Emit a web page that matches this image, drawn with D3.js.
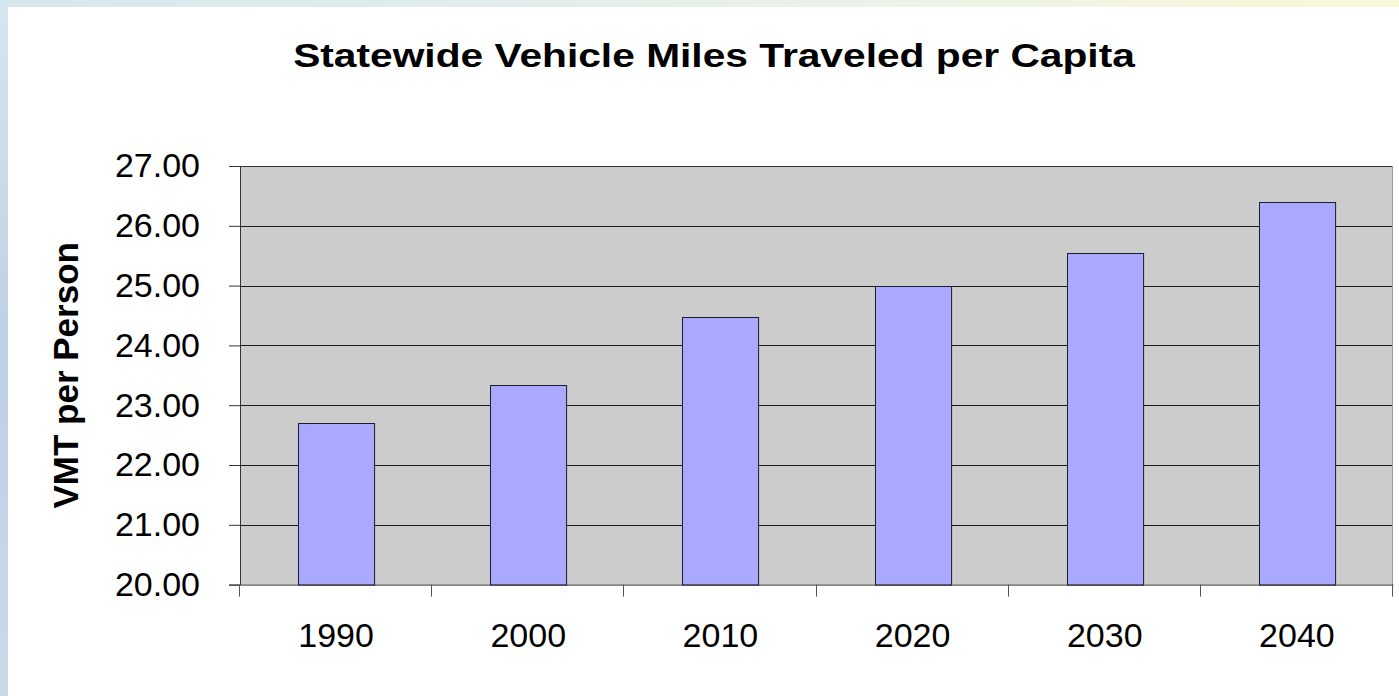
<!DOCTYPE html>
<html>
<head>
<meta charset="utf-8">
<script src="https://cdn.jsdelivr.net/npm/d3@7"></script>
<style>
  html, body { margin: 0; padding: 0; overflow: hidden; }
  svg { display: block; font-family: "Liberation Sans", Arial, sans-serif; }
</style>
</head>
<body>
<svg id="chart" width="1399" height="696"></svg>
<script>
// chart values
const years = ["1990", "2000", "2010", "2020", "2030", "2040"];
const vmtPerPerson = [22.71, 23.34, 24.47, 25.00, 25.55, 26.40];
const yTicks = [20, 21, 22, 23, 24, 25, 26, 27];

const svg = d3.select("#chart"),
      margin = {top: 166, right: 6, bottom: 111.4, left: 240},
      width = +svg.attr("width") - margin.left - margin.right,
      height = +svg.attr("height") - margin.top - margin.bottom;

// slide backdrop: bluish strip on the left, pale strip along the top
const defs = svg.append("defs");
const topGrad = defs.append("linearGradient").attr("id", "topGrad");
topGrad.append("stop").attr("offset", "0%").attr("stop-color", "#d6e7ee");
topGrad.append("stop").attr("offset", "55%").attr("stop-color", "#e8f1ea");
topGrad.append("stop").attr("offset", "100%").attr("stop-color", "#fbf8d8");
const leftGrad = defs.append("linearGradient").attr("id", "leftGrad")
    .attr("x1", 0).attr("y1", 0).attr("x2", 0).attr("y2", 1);
leftGrad.append("stop").attr("offset", "0%").attr("stop-color", "#d4e6ee");
leftGrad.append("stop").attr("offset", "50%").attr("stop-color", "#bcd0e4");
leftGrad.append("stop").attr("offset", "100%").attr("stop-color", "#c9d9ea");

svg.append("rect").attr("width", 1399).attr("height", 696).attr("fill", "url(#topGrad)");
svg.append("rect").attr("width", 8).attr("height", 696).attr("fill", "url(#leftGrad)");
svg.append("rect").attr("x", 8).attr("y", 7).attr("width", 1391).attr("height", 689).attr("fill", "#fff");

// title is drawn wider than its natural width, so stretch the glyphs
const title = svg.append("g").attr("transform", "translate(714,67)");
const titleText = title.append("text")
    .attr("text-anchor", "middle")
    .attr("font-size", 34)
    .attr("font-weight", "bold")
    .text("Statewide Vehicle Miles Traveled per Capita");
const natural = titleText.node().getComputedTextLength();
titleText.attr("transform", "scale(" + (842 / natural) + ",1)");

const g = svg.append("g").attr("transform", "translate(" + margin.left + "," + margin.top + ")");

const x = d3.scaleBand().domain(years).range([0, width]).paddingInner(0.604).paddingOuter(0.302),
      y = d3.scaleLinear().domain([20, 27]).range([height, 0]);

// plot area
g.append("rect")
    .attr("width", width)
    .attr("height", height)
    .attr("fill", "#cccccc");

// gridlines
g.append("g")
    .selectAll("line")
    .data(yTicks.slice(1, -1))
    .join("line")
    .attr("x1", 0)
    .attr("x2", width)
    .attr("y1", d => Math.round(y(d)) + 0.5)
    .attr("y2", d => Math.round(y(d)) + 0.5)
    .attr("stroke", "#1a1a1a");

// plot border (top dark, right gray)
g.append("line").attr("x1", 0).attr("x2", width).attr("y1", 0.5).attr("y2", 0.5).attr("stroke", "#333");
g.append("line").attr("x1", width - 0.5).attr("x2", width - 0.5).attr("y1", 0).attr("y2", height).attr("stroke", "#9a9a9a");

// bars
g.append("g")
    .selectAll("rect")
    .data(years)
    .join("rect")
    .attr("x", d => Math.round(x(d)) + 0.5)
    .attr("y", (d, i) => Math.round(y(vmtPerPerson[i])) + 0.5)
    .attr("width", x.bandwidth())
    .attr("height", (d, i) => height - Math.round(y(vmtPerPerson[i])))
    .attr("fill", "#a9aaff")
    .attr("stroke", "#1c1c2a")
    .attr("stroke-width", 1);

// y axis
const yAxis = g.append("g")
    .call(d3.axisLeft(y).tickValues(yTicks).tickFormat(d3.format(".2f")).tickSize(11).tickPadding(29));
yAxis.select(".domain").attr("stroke", "#333");
yAxis.selectAll(".tick line").attr("stroke", "#333");
yAxis.selectAll("text").attr("font-size", 34).attr("font-family", null).attr("fill", "#000");

// x axis: labels at band centres, ticks at band edges
const xAxis = g.append("g")
    .attr("transform", "translate(0," + height + ")")
    .call(d3.axisBottom(x).tickSize(0).tickPadding(38));
xAxis.select(".domain").attr("stroke", "#333");
xAxis.selectAll("text").attr("font-size", 34).attr("font-family", null).attr("fill", "#000");

const edges = years.map(d => x(d) - x.step() * x.paddingInner() / 2).concat([width]);
xAxis.append("g")
    .selectAll("line")
    .data(edges)
    .join("line")
    .attr("x1", d => Math.round(d) - 0.5)
    .attr("x2", d => Math.round(d) - 0.5)
    .attr("y1", 0)
    .attr("y2", 12)
    .attr("stroke", "#555");

svg.append("text")
    .attr("transform", "translate(78," + (margin.top + height / 2) + ") rotate(-90)")
    .attr("text-anchor", "middle")
    .attr("font-size", 35)
    .attr("font-weight", "bold")
    .text("VMT per Person");
</script>
</body>
</html>
